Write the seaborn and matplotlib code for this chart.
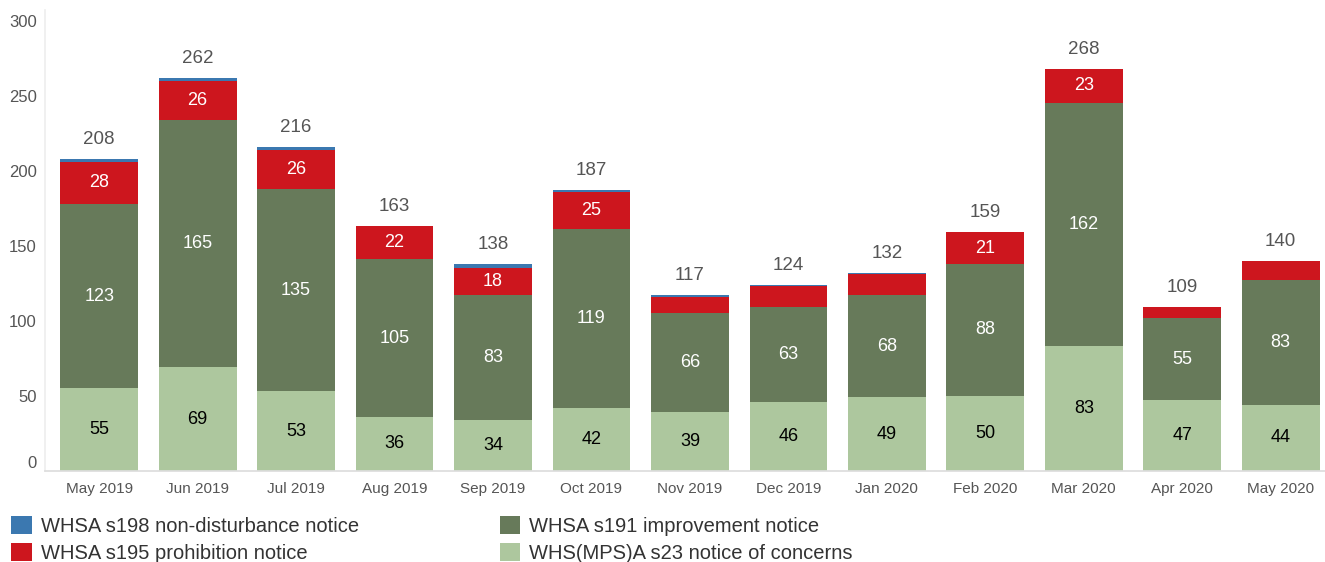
import numpy as np
import pandas as pd
import matplotlib
matplotlib.use("Agg")
import matplotlib.pyplot as plt
import seaborn as sns
from matplotlib.patches import Patch
from matplotlib.ticker import FixedLocator

months = ["May 2019", "Jun 2019", "Jul 2019", "Aug 2019", "Sep 2019", "Oct 2019",
          "Nov 2019", "Dec 2019", "Jan 2020", "Feb 2020", "Mar 2020", "Apr 2020", "May 2020"]
s23 = [55, 69, 53, 36, 34, 42, 39, 46, 49, 50, 83, 47, 44]
s191 = [123, 165, 135, 105, 83, 119, 66, 63, 68, 88, 162, 55, 83]
s195 = [28, 26, 26, 22, 18, 25, 11, 14, 14, 21, 23, 7, 13]
s198 = [2, 2, 2, 0, 3, 1, 1, 1, 1, 0, 0, 0, 0]
totals = [208, 262, 216, 163, 138, 187, 117, 124, 132, 159, 268, 109, 140]

series_names = ["WHSA s198 non-disturbance notice", "WHSA s195 prohibition notice",
                "WHSA s191 improvement notice", "WHS(MPS)A s23 notice of concerns"]
colors = {"s198": "#3B78B0", "s195": "#CD161E", "s191": "#677A5A", "s23": "#ADC79E"}

sns.set_theme(style="white")
plt.rcParams["font.family"] = ["Liberation Sans", "DejaVu Sans"]

df = pd.DataFrame({"month": months, "s23": s23, "s191": s191, "s195": s195, "s198": s198})
df["c1"] = df["s23"]
df["c2"] = df["c1"] + df["s191"]
df["c3"] = df["c2"] + df["s195"]
df["c4"] = df["c3"] + df["s198"]

fig = plt.figure(figsize=(13.25, 5.62), dpi=100)
ax = fig.add_axes([0.034, 0.162, 0.966, 0.82])

width = 0.79
for col, key in [("c4", "s198"), ("c3", "s195"), ("c2", "s191"), ("c1", "s23")]:
    sns.barplot(data=df, x="month", y=col, color=colors[key], width=width,
                saturation=1, ax=ax, edgecolor="none", linewidth=0)

ax.set_xlim(-0.55, 12.45)
ax.set_ylim(0, 307)
ax.set_xlabel("")
ax.set_ylabel("")
ax.set_yticks([0, 50, 100, 150, 200, 250, 300])
ax.tick_params(axis="y", length=0, pad=6, labelsize=12, labelcolor="#555555")
ax.tick_params(axis="x", which="major", length=0, pad=8, labelsize=11, labelcolor="#555555")
ax.xaxis.set_minor_locator(FixedLocator(np.arange(-0.5, 12.6, 1)))
ax.tick_params(axis="x", which="minor", length=5, color="#e6e6e6", width=1)
for lbl in ax.get_yticklabels():
    if lbl.get_text() == "0":
        lbl.set_va("bottom")

for side in ["top", "right"]:
    ax.spines[side].set_visible(False)
ax.spines["left"].set_color("#eeeeee")
ax.spines["bottom"].set_color("#dddddd")
ax.spines["bottom"].set_linestyle((0, (1, 1)))

for i in range(len(months)):
    ax.text(i, s23[i] / 2, str(s23[i]), ha="center", va="center", fontsize=13, color="black")
    ax.text(i, s23[i] + s191[i] / 2, str(s191[i]), ha="center", va="center", fontsize=13, color="white")
    if s195[i] >= 15:
        ax.text(i, s23[i] + s191[i] + s195[i] / 2, str(s195[i]), ha="center", va="center",
                fontsize=13, color="white")
    ax.annotate(str(totals[i]), (i, df["c4"][i]), xytext=(0, 8), textcoords="offset points",
                ha="center", va="bottom", fontsize=13.5, color="#555555")

handles = [Patch(facecolor=colors[k], edgecolor="none") for k in ["s198", "s195", "s191", "s23"]]
fig.legend(handles, series_names, loc="lower left", bbox_to_anchor=(-0.002, -0.027), ncol=2,
           frameon=False, fontsize=14.5, handlelength=1.0, handleheight=1.0, handletextpad=0.45,
           columnspacing=7.0, labelspacing=0.35, labelcolor="#333333", borderaxespad=0.3)

fig.savefig("out.png", dpi=100)
